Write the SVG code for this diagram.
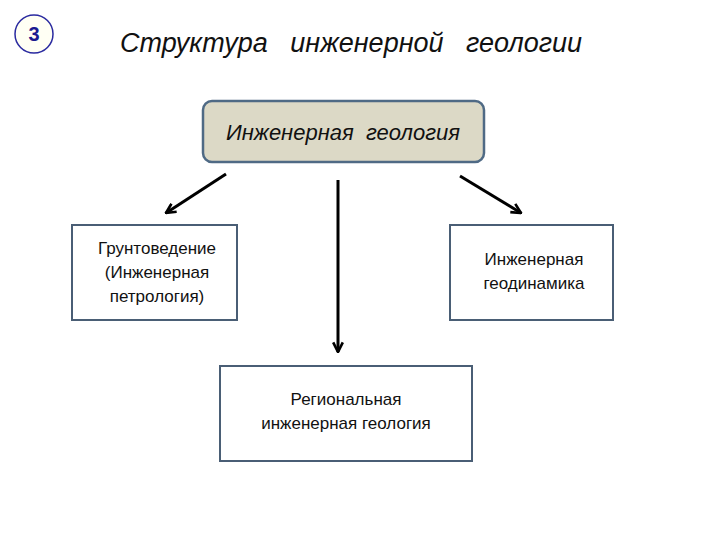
<svg xmlns="http://www.w3.org/2000/svg" width="720" height="540" viewBox="0 0 720 540">
<style>
.box{fill:#fff;stroke:#4a5e75;stroke-width:2}
.t{font-family:"Liberation Sans",Arial,sans-serif;font-size:17px;fill:#111;text-anchor:middle}
.it{font-family:"Liberation Sans",Arial,sans-serif;font-style:italic;fill:#111}
.c{stroke:#000;stroke-width:3;fill:none;marker-end:url(#ah)}
</style>
<defs>
<marker id="ah" viewBox="0 0 10 10" refX="9" refY="5" markerWidth="4" markerHeight="4" orient="auto" markerUnits="strokeWidth">
<path d="M1,1 L9,5 L1,9" fill="none" stroke="#000" stroke-width="2.2"/>
</marker>
</defs>
<rect width="720" height="540" fill="#fff"/>
<g id="badge">
<circle cx="34" cy="34" r="19" fill="#fffff4" stroke="#2a2aa0" stroke-width="1.5"/>
<text x="34" y="41" font-family="Liberation Sans,Arial,sans-serif" font-weight="bold" font-size="20" fill="#1a1a90" text-anchor="middle">3</text>
</g>
<g id="title"><text class="it" x="120" y="52" font-size="27" xml:space="preserve">Структура   инженерной   геологии</text></g>
<g id="connectors">
<line class="c" x1="226" y1="174" x2="166" y2="213"/>
<line class="c" x1="338" y1="180" x2="338" y2="352"/>
<line class="c" x1="460" y1="176" x2="521" y2="213"/>
</g>
<g id="root">
<rect x="203" y="101" width="281" height="61" rx="9" fill="#dcd9c6" stroke="#4f6a85" stroke-width="2.5"/>
<text class="it" x="343" y="140" font-size="22" text-anchor="middle" xml:space="preserve">Инженерная  геология</text>
</g>
<g id="n1">
<rect class="box" x="72" y="225" width="165" height="95"/>
<text class="t" x="157" y="254">Грунтоведение</text>
<text class="t" x="157" y="278">(Инженерная</text>
<text class="t" x="157" y="302">петрология)</text>
</g>
<g id="n2">
<rect class="box" x="450" y="225" width="163" height="95"/>
<text class="t" x="534" y="265">Инженерная</text>
<text class="t" x="534" y="289">геодинамика</text>
</g>
<g id="n3">
<rect class="box" x="220" y="366" width="252" height="95"/>
<text class="t" x="346" y="405">Региональная</text>
<text class="t" x="346" y="429">инженерная геология</text>
</g>
</svg>
